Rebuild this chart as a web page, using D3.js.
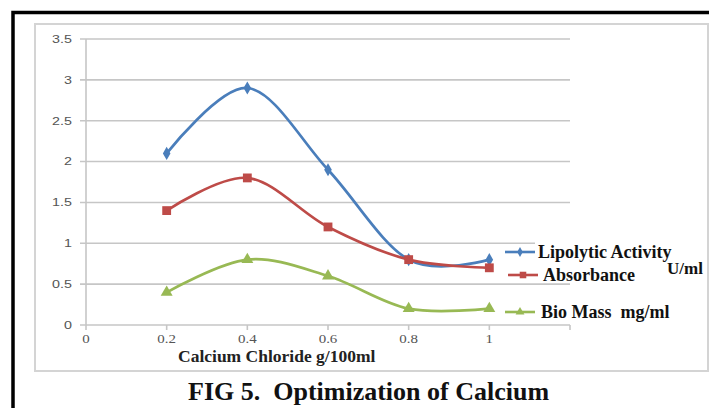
<!DOCTYPE html>
<html>
<head>
<meta charset="utf-8">
<script src="https://cdn.jsdelivr.net/npm/d3@7/dist/d3.min.js"></script>
<style>
  html, body { margin: 0; padding: 0; background: #fff; }
  svg { display: block; }
</style>
</head>
<body>
<svg id="chart" width="709" height="408"></svg>
<script>
// Calcium chloride concentration (g/100ml)
const concentrations = [0.2, 0.4, 0.6, 0.8, 1.0];
const lipolyticActivity = [2.1, 2.9, 1.9, 0.8, 0.8];
const absorbance = [1.4, 1.8, 1.2, 0.8, 0.7];
const bioMass = [0.4, 0.8, 0.6, 0.2, 0.2];
const yTicks = [0, 0.5, 1, 1.5, 2, 2.5, 3, 3.5];
const xTicks = [0, 0.2, 0.4, 0.6, 0.8, 1];
const seriesNames = ["Lipolytic Activity", "Absorbance", "Bio Mass  mg/ml"];

const series = [
  { name: seriesNames[0], values: lipolyticActivity, color: "#4a7ebb", symbol: d3.symbolDiamond, size: 50 },
  { name: seriesNames[1], values: absorbance, color: "#be4b48", symbol: d3.symbolSquare, size: 78 },
  { name: seriesNames[2], values: bioMass, color: "#98b954", symbol: d3.symbolTriangle, size: 62 }
];

const serif = "Liberation Serif, Times New Roman, serif";
const svg = d3.select("#chart");

// outer black border
svg.append("rect").attr("x", 13).attr("y", 12.5).attr("width", 710).attr("height", 420)
  .attr("fill", "none").attr("stroke", "#000").attr("stroke-width", 3.5);

// chart area frame
svg.append("rect").attr("x", 35).attr("y", 24).attr("width", 673).attr("height", 347)
  .attr("fill", "#fff").attr("stroke", "#d4d4d4").attr("stroke-width", 2);

const x = d3.scaleLinear().domain([0, 1.2]).range([86, 570]);
const y = d3.scaleLinear().domain([0, 3.5]).range([325, 39]);

// horizontal gridlines (extend left as tick marks)
svg.append("g").selectAll("line").data(yTicks).join("line")
  .attr("x1", 80).attr("x2", x(1.2))
  .attr("y1", d => y(d)).attr("y2", d => y(d))
  .attr("stroke", "#c6c6c6").attr("stroke-width", 1.6);

// y axis line
svg.append("line").attr("x1", 86).attr("x2", 86).attr("y1", y(3.5)).attr("y2", y(0))
  .attr("stroke", "#c6c6c6").attr("stroke-width", 1.6);

// x tick marks
svg.append("g").selectAll("line").data(xTicks.concat([1.2])).join("line")
  .attr("x1", d => x(d)).attr("x2", d => x(d))
  .attr("y1", y(0)).attr("y2", y(0) + 5)
  .attr("stroke", "#c6c6c6").attr("stroke-width", 1.6);

// y tick labels (slightly widened glyphs)
svg.append("g").selectAll("text").data(yTicks).join("text")
  .attr("transform", d => `translate(72,${y(d)}) scale(1.3,1)`)
  .attr("dy", "0.35em")
  .attr("text-anchor", "end")
  .attr("font-family", "Liberation Sans, Arial, sans-serif")
  .attr("font-size", 11).attr("fill", "#555")
  .text(d => d);

// x tick labels
svg.append("g").selectAll("text").data(xTicks).join("text")
  .attr("transform", d => `translate(${x(d)},343) scale(1.3,1)`)
  .attr("text-anchor", "middle")
  .attr("font-family", serif)
  .attr("font-size", 11.5).attr("fill", "#555")
  .text(d => d);

// legend background hides the gridline behind the legend text
svg.append("rect").attr("x", 535).attr("y", 236).attr("width", 165).attr("height", 26).attr("fill", "#fff");

// series lines and markers
const line = d3.line()
  .x((d, i) => x(concentrations[i]))
  .y(d => y(d))
  .curve(d3.curveCatmullRom.alpha(0));

series.forEach(s => {
  svg.append("path").attr("d", line(s.values))
    .attr("fill", "none").attr("stroke", s.color).attr("stroke-width", 2.7);
  svg.append("g").selectAll("path").data(s.values).join("path")
    .attr("transform", (d, i) => `translate(${x(concentrations[i])},${y(d)})`)
    .attr("d", d3.symbol(s.symbol, s.size))
    .attr("fill", s.color);
});

// legend
const legendRows = [
  { y: 252, lx: 505, tx: 538 },
  { y: 275, lx: 508, tx: 543 },
  { y: 312, lx: 505, tx: 541 }
];
series.forEach((s, i) => {
  const r = legendRows[i];
  svg.append("line").attr("x1", r.lx).attr("x2", r.lx + 30).attr("y1", r.y).attr("y2", r.y)
    .attr("stroke", s.color).attr("stroke-width", 2.6);
  svg.append("path").attr("transform", `translate(${r.lx + 15},${r.y})`)
    .attr("d", d3.symbol(s.symbol, s.size * 0.55)).attr("fill", s.color);
  svg.append("text").attr("x", r.tx).attr("y", r.y).attr("dy", "0.33em")
    .attr("font-family", serif)
    .attr("font-weight", "bold").attr("font-size", 18).attr("fill", "#111")
    .attr("xml:space", "preserve")
    .text(s.name);
});
svg.append("text").attr("x", 667).attr("y", 268).attr("dy", "0.33em")
  .attr("font-family", serif)
  .attr("font-weight", "bold").attr("font-size", 17).attr("fill", "#111")
  .text("U/ml");

// axis title
svg.append("text").attr("x", 178).attr("y", 362)
  .attr("font-family", serif)
  .attr("font-weight", "bold").attr("font-size", 17.5).attr("fill", "#222")
  .text("Calcium Chloride g/100ml");

// figure caption
svg.append("text").attr("x", 188).attr("y", 400)
  .attr("font-family", serif)
  .attr("font-weight", "bold").attr("font-size", 26).attr("fill", "#111")
  .attr("xml:space", "preserve")
  .text("FIG 5.  Optimization of Calcium");
</script>
</body>
</html>
